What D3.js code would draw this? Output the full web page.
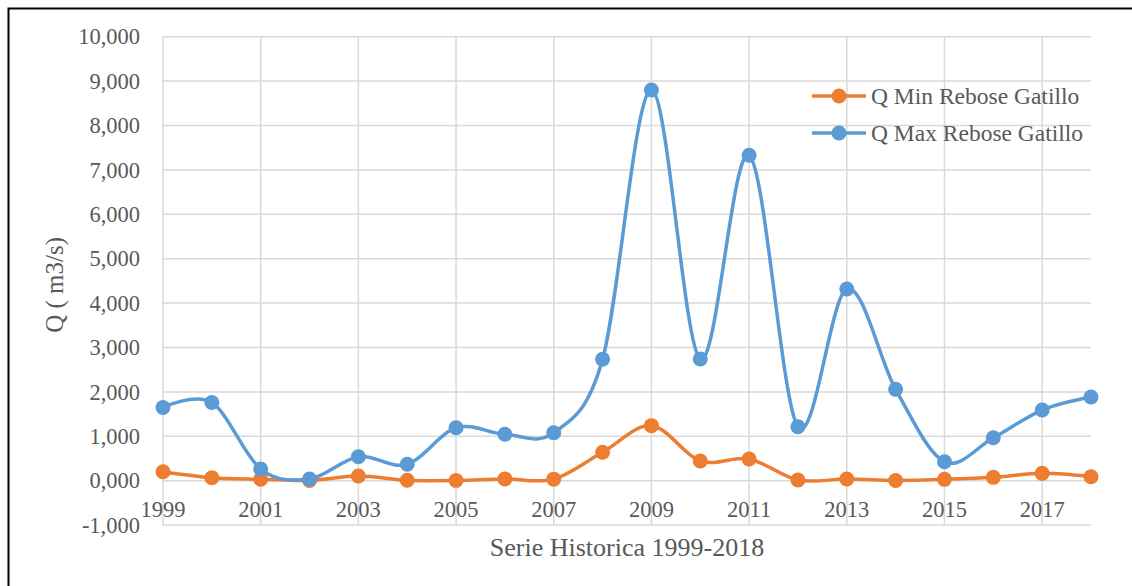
<!DOCTYPE html>
<html>
<head>
<meta charset="utf-8">
<script src="https://cdn.jsdelivr.net/npm/d3@7"></script>
<style>
  html, body { margin: 0; padding: 0; background: #fff; }
  svg { display: block; }
</style>
</head>
<body>
<svg id="chart" width="1132" height="586"></svg>
<script>
const years = [1999,2000,2001,2002,2003,2004,2005,2006,2007,2008,2009,2010,2011,2012,2013,2014,2015,2016,2017,2018];
const qMin = [203,68,32,5,106,10,5,40,35,640,1240,444,489,16,38,5,30,76,166,90];
const qMax = [1650,1760,263,38,540,369,1194,1045,1081,2734,8800,2740,7330,1216,4318,2058,428,968,1592,1885];
const seriesNames = ["Q Min Rebose Gatillo", "Q Max Rebose Gatillo"];
const xTickYears = [1999,2001,2003,2005,2007,2009,2011,2013,2015,2017];
const yTickValues = [-1000,0,1000,2000,3000,4000,5000,6000,7000,8000,9000,10000];
const yTickLabels = ["-1,000","0,000","1,000","2,000","3,000","4,000","5,000","6,000","7,000","8,000","9,000","10,000"];
const xTitle = "Serie Historica 1999-2018";
const yTitle = "Q ( m3/s)";

const colors = ["#ED7D31", "#5B9BD5"];
const textColor = "#595959";
const gridColor = "#D9D9D9";
const font = "'Liberation Serif', 'Times New Roman', serif";

const svg = d3.select("#chart");
const pLeft = 163, pRight = 1091, pTop = 36.7, pBottom = 525.1;

const x = d3.scaleLinear().domain([1999, 2018]).range([pLeft, pRight]);
const y = d3.scaleLinear().domain([-1000, 10000]).range([pBottom, pTop]);

// border
svg.append("path")
  .attr("d", `M8.5,586 L8.5,8.5 L1132,8.5`)
  .attr("fill", "none").attr("stroke", "#000").attr("stroke-width", 2);

// horizontal grid
svg.append("g").selectAll("line").data(yTickValues).join("line")
  .attr("x1", pLeft).attr("x2", pRight)
  .attr("y1", d => y(d)).attr("y2", d => y(d))
  .attr("stroke", gridColor).attr("stroke-width", 1.5);

// vertical grid
svg.append("g").selectAll("line").data(xTickYears).join("line")
  .attr("x1", d => x(d)).attr("x2", d => x(d))
  .attr("y1", pTop).attr("y2", pBottom)
  .attr("stroke", gridColor).attr("stroke-width", 1.5);

// y tick labels
svg.append("g").selectAll("text").data(yTickValues).join("text")
  .attr("x", 140).attr("y", d => y(d)).attr("dy", "0.34em")
  .attr("text-anchor", "end")
  .attr("font-family", font).attr("font-size", 22.5).attr("fill", textColor)
  .text((d, i) => yTickLabels[i]);

// x tick labels
svg.append("g").selectAll("text").data(xTickYears).join("text")
  .attr("x", d => x(d)).attr("y", 517)
  .attr("text-anchor", "middle")
  .attr("font-family", font).attr("font-size", 22.5).attr("fill", textColor)
  .text(d => d);

// axis titles
svg.append("text")
  .attr("x", (pLeft + pRight) / 2).attr("y", 556)
  .attr("text-anchor", "middle")
  .attr("font-family", font).attr("font-size", 26).attr("fill", textColor)
  .text(xTitle);

svg.append("text")
  .attr("transform", `translate(63,${(pTop + pBottom) / 2 + 4}) rotate(-90)`)
  .attr("text-anchor", "middle")
  .attr("font-family", font).attr("font-size", 25).attr("fill", textColor)
  .text(yTitle);

// series
const line = d3.line()
  .x((d, i) => x(years[i]))
  .y(d => y(d))
  .curve(d3.curveCardinal.tension(0));

[qMin, qMax].forEach((vals, si) => {
  const g = svg.append("g");
  g.append("path").datum(vals)
    .attr("d", line)
    .attr("fill", "none").attr("stroke", colors[si]).attr("stroke-width", 3.5)
    .attr("stroke-linejoin", "round").attr("stroke-linecap", "round");
  g.selectAll("circle").data(vals).join("circle")
    .attr("cx", (d, i) => x(years[i])).attr("cy", d => y(d))
    .attr("r", 7.5).attr("fill", colors[si]);
});

// legend
const legend = svg.append("g");
const legendRows = [96, 133];
seriesNames.forEach((name, i) => {
  const ly = legendRows[i];
  legend.append("line")
    .attr("x1", 812).attr("x2", 866).attr("y1", ly).attr("y2", ly)
    .attr("stroke", colors[i]).attr("stroke-width", 3.5);
  legend.append("circle").attr("cx", 839).attr("cy", ly).attr("r", 7.5).attr("fill", colors[i]);
  legend.append("text")
    .attr("x", 871).attr("y", ly).attr("dy", "0.34em")
    .attr("font-family", font).attr("font-size", 23.5).attr("fill", textColor)
    .text(name);
});
</script>
</body>
</html>
